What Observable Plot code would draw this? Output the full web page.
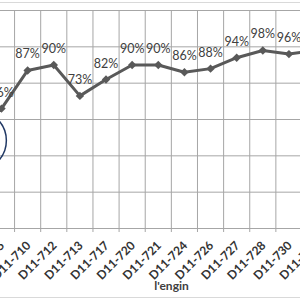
<!DOCTYPE html>
<html>
<head>
<meta charset="utf-8">
<script src="https://cdn.jsdelivr.net/npm/d3@7"></script>
<script src="https://cdn.jsdelivr.net/npm/@observablehq/plot@0.6"></script>
<style>
  html, body { margin: 0; padding: 0; background: #fff; overflow: hidden; }
</style>
</head>
<body>
<div id="chart"></div>
<script>
const categories = ["D11-705","D11-710","D11-712","D11-713","D11-717","D11-720","D11-721","D11-724","D11-726","D11-727","D11-728","D11-730","D11-731"];
const values = [66, 87, 90, 73, 82, 90, 90, 86, 88, 94, 98, 96, 98];
const yTicks = [0, 20, 40, 60, 80, 100, 120];
const xTitle = "l'engin";
const highlight = [{i: -1, v: 48.4}];

const data = categories.map((c, i) => ({i, c, v: values[i]}));
const gridIdx = categories.map((c, i) => i + 0.5);

const chart = Plot.plot({
  width: 300,
  height: 300,
  marginTop: 10,
  marginBottom: 72,
  marginLeft: 0,
  marginRight: 0,
  style: {fontFamily: "Lato, sans-serif", background: "#fff"},
  x: {type: "linear", domain: [0, 13], range: [1, 340.7], axis: null},
  y: {domain: [0, 120], axis: null},
  marks: [
    Plot.frame({stroke: "#d9d9d9", insetTop: -8, insetBottom: -69, insetLeft: -5, insetRight: -5}),
    Plot.ruleY(yTicks, {stroke: "#a6a6a6", strokeWidth: 1}),
    Plot.ruleX(gridIdx, {stroke: "#a6a6a6", strokeWidth: 1, insetBottom: -4}),
    Plot.line(data, {x: "i", y: "v", stroke: "#595959", strokeWidth: 3}),
    Plot.dot(data, {x: "i", y: "v", symbol: "diamond2", r: 3.8, fill: "#595959"}),
    Plot.text(data, {x: "i", y: "v", text: d => d.v + "%", dy: -12, lineAnchor: "bottom", fontSize: 12.5, fill: "#404040"}),
    Plot.text(data, {x: "i", text: "c", frameAnchor: "bottom", rotate: -45, textAnchor: "end", lineAnchor: "middle", dx: 1, dy: 15, fontWeight: "bold", fontSize: 12, fill: "#333"}),
    Plot.text([xTitle], {frameAnchor: "bottom", dx: 21, dy: 61, lineAnchor: "bottom", fontWeight: "bold", fontSize: 12, fill: "#404040"}),
    Plot.dot(highlight, {x: "i", y: "v", r: 30, dx: 1, stroke: "#203864", strokeWidth: 1.5, fill: "none"})
  ]
});
document.getElementById("chart").appendChild(chart);
</script>
</body>
</html>
